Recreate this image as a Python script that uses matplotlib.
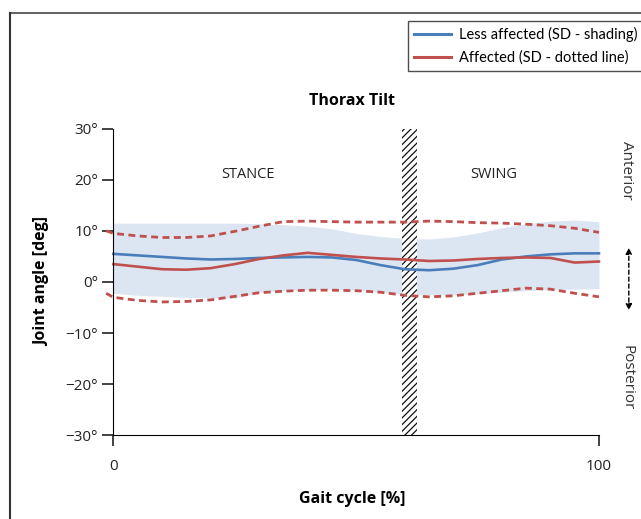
import matplotlib.pyplot as plt
from matplotlib.lines import Line2D
from matplotlib.patches import FancyArrowPatch

plt.rcParams['font.family'] = ['Open Sans', 'DejaVu Sans']
plt.rcParams['hatch.linewidth'] = 0.9

# gait cycle samples [%]
gait = [0, 5, 10, 15, 20, 25, 30, 35, 40, 45, 50, 55, 60, 65, 70, 75, 80, 85, 90, 95, 100]

# less affected side: mean and SD band
less_mean = [5.5, 5.2, 4.9, 4.6, 4.4, 4.5, 4.7, 4.8, 4.9, 4.8, 4.3, 3.3, 2.5, 2.3, 2.6, 3.3, 4.4, 5.0, 5.4, 5.6, 5.6]
less_hi = [11.5, 11.5, 11.5, 11.5, 11.5, 11.5, 11.4, 11.2, 10.9, 10.4, 9.5, 8.9, 8.5, 8.4, 8.8, 9.6, 10.6, 11.4, 11.9, 12.1, 11.8]
less_lo = [-2.2, -2.6, -2.8, -3.0, -3.1, -3.2, -2.0, -1.7, -1.5, -1.4, -1.6, -2.0, -2.4, -2.5, -2.5, -2.3, -2.0, -1.7, -1.5, -1.4, -1.3]

# affected side: mean and SD lines
aff_mean = [3.5, 3.0, 2.5, 2.4, 2.7, 3.5, 4.5, 5.2, 5.7, 5.3, 4.9, 4.6, 4.4, 4.1, 4.2, 4.5, 4.7, 4.8, 4.7, 3.8, 4.0]
gait_sd = [-1.5] + gait
aff_hi = [10.0, 9.5, 9.0, 8.7, 8.7, 9.0, 9.9, 10.9, 11.8, 11.9, 11.8, 11.7, 11.7, 11.7, 11.9, 11.8, 11.6, 11.5, 11.3, 11.0, 10.5, 9.7]
aff_lo = [-2.2, -3.0, -3.6, -3.9, -3.8, -3.5, -2.8, -2.1, -1.8, -1.6, -1.6, -1.7, -2.0, -2.6, -2.9, -2.7, -2.2, -1.7, -1.2, -1.4, -2.2, -2.9]

toe_off = (59.5, 62.5)
yticks = [-30, -20, -10, 0, 10, 20, 30]
ytick_labels = ['\u221230°', '\u221220°', '\u221210°', '0°', '10°', '20°', '30°']

blue = '#4a7ebb'
red = '#c0504d'

fig = plt.figure(figsize=(6.41, 5.19), dpi=100)
ax = fig.add_axes([0.1573, 0.1609, 0.7847, 0.5915])

ax.fill_between(gait, less_lo, less_hi, color='#dce6f2', lw=0)
ax.plot(gait_sd, aff_hi, color=red, lw=2.0, ls=(0, (2.5, 1.6)))
ax.plot(gait_sd, aff_lo, color=red, lw=2.0, ls=(0, (2.5, 1.6)))
ax.plot(gait, less_mean, color=blue, lw=1.9)
ax.plot(gait, aff_mean, color=red, lw=1.9)
ax.axvspan(toe_off[0], toe_off[1], facecolor='white', edgecolor='#111111', hatch='/////', lw=0)

ax.text(27.8, 21, 'STANCE', ha='center', va='center', fontsize=10.5, color='#222222')
ax.text(78.4, 21, 'SWING', ha='center', va='center', fontsize=10.5, color='#222222')

ax.set_xlim(-2.6, 101)
ax.set_ylim(-30, 30)
ax.spines['top'].set_visible(False)
ax.spines['right'].set_visible(False)
ax.spines['left'].set_position(('data', 0))
ax.spines['bottom'].set_bounds(0, 100)
ax.set_xticks([0, 100])
ax.set_yticks(yticks)
ax.set_yticklabels(ytick_labels)
ax.tick_params(axis='both', direction='out', length=8, width=1.2, labelsize=11, colors='#222222', pad=3)
ax.tick_params(axis='x', pad=9)
ax.set_title('Thorax Tilt', fontsize=11.5, fontweight='bold', pad=17)
ax.set_xlabel('Gait cycle [%]', fontsize=11.5, fontweight='bold', labelpad=12)
ax.set_ylabel('Joint angle [deg]', fontsize=11.5, fontweight='bold')
ax.yaxis.set_label_coords(-0.10, 0.5)

# right-hand direction labels
fig.text(0.978, 0.672, 'Anterior', rotation=-90, ha='center', va='center', fontsize=11, color='#333333')
fig.text(0.978, 0.272, 'Posterior', rotation=-90, ha='center', va='center', fontsize=11, color='#333333')
fig.patches.append(FancyArrowPatch(
    (0.981, 0.528), (0.981, 0.397), transform=fig.transFigure, arrowstyle='<|-|>',
    mutation_scale=9, ls=(0, (3, 2)), lw=1.0, color='black'))

# legend
handles = [Line2D([], [], color=blue, lw=2.2), Line2D([], [], color=red, lw=2.2)]
leg = fig.legend(handles, ['Less affected (SD - shading)', 'Affected (SD - dotted line)'],
                 loc='upper left', bbox_to_anchor=(0.636, 0.96), frameon=True,
                 prop={'family': 'Lato', 'size': 10.5},
                 fancybox=False, edgecolor='#222222', handlelength=2.5, borderpad=0.45,
                 labelspacing=0.55, handletextpad=0.6, borderaxespad=0)
leg.get_frame().set_linewidth(1.0)

# outer frame
fig.add_artist(Line2D([0.0156, 1.0], [0.975, 0.975], color='#666666', lw=1.5))
fig.add_artist(Line2D([0.0156, 0.0156], [0.0, 0.975], color='#333333', lw=1.5))

fig.savefig('out.png', dpi=100)
